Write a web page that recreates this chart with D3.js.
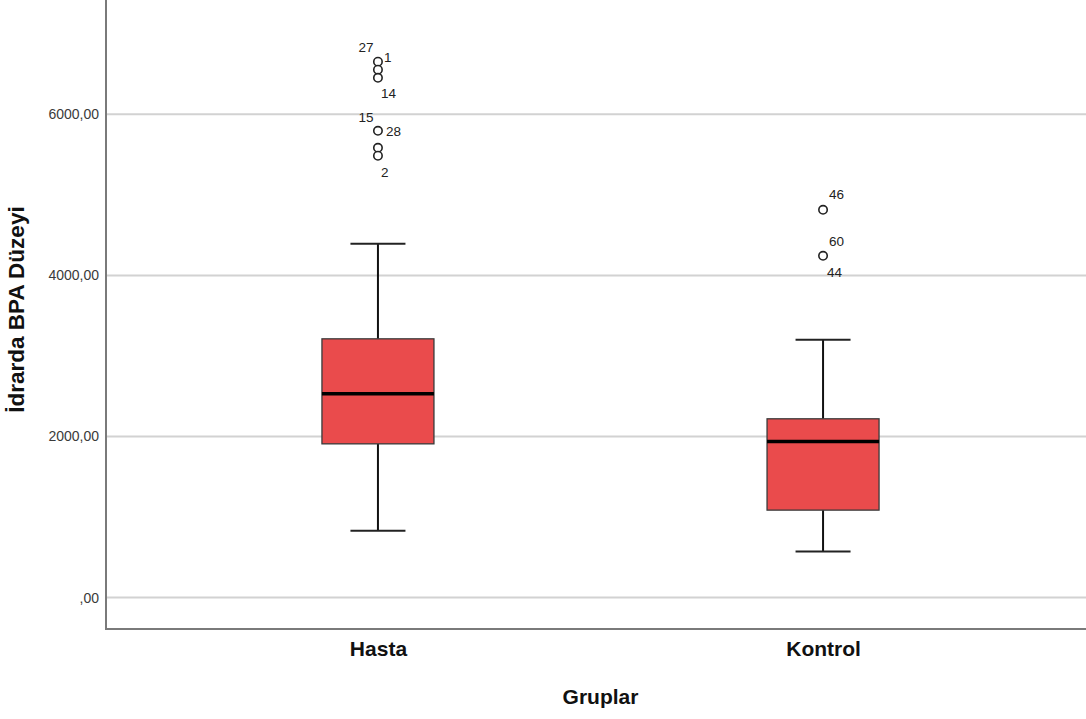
<!DOCTYPE html>
<html>
<head>
<meta charset="utf-8">
<script src="https://cdn.jsdelivr.net/npm/d3@7"></script>
<style>
  body { margin: 0; background: #ffffff; }
  svg { display: block; font-family: "Liberation Sans", Arial, sans-serif; }
</style>
</head>
<body>
<div id="chart"></div>
<script>
// groups and box statistics
var groups = ["Hasta", "Kontrol"];
var whiskerLow = [829, 571];
var q1 = [1909, 1086];
var median = [2530, 1938];
var q3 = [3213, 2220];
var whiskerHigh = [4393, 3201];
var outliers = [
    [6653, 6554, 6454, 5796, 5585, 5486],
    [4815, 4244]
];
// case labels next to the outliers: group index, case id, value where label sits
var labelGroup = [0, 0, 0, 0, 0, 0, 1, 1, 1];
var labelIds = ["27", "1", "14", "15", "28", "2", "46", "60", "44"];
var labelValues = [6827, 6703, 6256, 5970, 5784, 5287, 5013, 4429, 4045];
var yTicks = [0, 2000, 4000, 6000];

drawBoxplot();

function drawBoxplot() {
    var w = 1086, h = 719;
    var left = 106, top = 0, bottom = 629, right = 1095;
    var svg = d3.select("#chart").append("svg").attr("width", w).attr("height", h);

    var y = d3.scaleLinear().domain([-390, 7420]).range([bottom, top]);
    var x = d3.scalePoint().domain(groups).range([left, right]).padding(0.611);
    var boxW = 112, capW = 55;

    // gridlines
    svg.append("g").selectAll("line").data(yTicks).enter()
        .append("line")
        .attr("x1", left).attr("x2", w)
        .attr("y1", function (d) { return y(d); })
        .attr("y2", function (d) { return y(d); })
        .attr("stroke", "#d2d2d2").attr("stroke-width", 2);

    // y axis
    var yAxis = svg.append("g").attr("transform", "translate(" + left + ",0)")
        .call(d3.axisLeft(y).tickValues(yTicks).tickSize(0).tickPadding(7)
            .tickFormat(function (d) { return d === 0 ? ",00" : d.toFixed(2).replace(".", ","); }));
    yAxis.select(".domain").remove();
    yAxis.selectAll("text").attr("font-size", "14px").attr("fill", "#3a3a3a")
        .attr("font-family", "Liberation Sans, Arial, sans-serif");

    // x axis labels
    var xAxis = svg.append("g").attr("transform", "translate(0," + bottom + ")")
        .call(d3.axisBottom(x).tickSize(0).tickPadding(12));
    xAxis.select(".domain").remove();
    xAxis.selectAll("text").attr("font-size", "21px").attr("font-weight", "bold")
        .attr("fill", "#111").attr("font-family", "Liberation Sans, Arial, sans-serif");

    // axis lines
    svg.append("line").attr("x1", left).attr("x2", left).attr("y1", 0).attr("y2", bottom + 1)
        .attr("stroke", "#7a7a7a").attr("stroke-width", 2);
    svg.append("line").attr("x1", left).attr("x2", w).attr("y1", bottom).attr("y2", bottom)
        .attr("stroke", "#7a7a7a").attr("stroke-width", 2);

    var boxes = svg.append("g").selectAll("g").data(groups).enter().append("g");

    // whiskers
    boxes.append("line")
        .attr("x1", function (d) { return x(d); }).attr("x2", function (d) { return x(d); })
        .attr("y1", function (d, i) { return y(whiskerHigh[i]); })
        .attr("y2", function (d, i) { return y(q3[i]); })
        .attr("stroke", "#111").attr("stroke-width", 2);
    boxes.append("line")
        .attr("x1", function (d) { return x(d); }).attr("x2", function (d) { return x(d); })
        .attr("y1", function (d, i) { return y(q1[i]); })
        .attr("y2", function (d, i) { return y(whiskerLow[i]); })
        .attr("stroke", "#111").attr("stroke-width", 2);
    // caps
    [whiskerHigh, whiskerLow].forEach(function (arr) {
        boxes.append("line")
            .attr("x1", function (d) { return x(d) - capW / 2; })
            .attr("x2", function (d) { return x(d) + capW / 2; })
            .attr("y1", function (d, i) { return y(arr[i]); })
            .attr("y2", function (d, i) { return y(arr[i]); })
            .attr("stroke", "#222").attr("stroke-width", 2);
    });
    // box
    boxes.append("rect")
        .attr("x", function (d) { return x(d) - boxW / 2; })
        .attr("width", boxW)
        .attr("y", function (d, i) { return y(q3[i]); })
        .attr("height", function (d, i) { return y(q1[i]) - y(q3[i]); })
        .attr("fill", "#ea4b4c").attr("stroke", "#3a3a3a").attr("stroke-width", 1.3);
    // median
    boxes.append("line")
        .attr("x1", function (d) { return x(d) - boxW / 2; })
        .attr("x2", function (d) { return x(d) + boxW / 2; })
        .attr("y1", function (d, i) { return y(median[i]); })
        .attr("y2", function (d, i) { return y(median[i]); })
        .attr("stroke", "#000").attr("stroke-width", 3.5);

    // outliers
    boxes.each(function (d, i) {
        d3.select(this).selectAll("circle").data(outliers[i]).enter()
            .append("circle")
            .attr("cx", x(d)).attr("cy", function (v) { return y(v); })
            .attr("r", 4.2)
            .attr("fill", "#fff").attr("stroke", "#222").attr("stroke-width", 1.6);
    });

    // outlier case labels
    var labelDx = [-12, 6, 3, -12, 8, 3, 6, 6, 4];
    svg.append("g").selectAll("text").data(labelIds).enter()
        .append("text")
        .attr("x", function (d, i) { return x(groups[labelGroup[i]]) + labelDx[i]; })
        .attr("y", function (d, i) { return y(labelValues[i]); })
        .attr("dy", "0.35em")
        .attr("text-anchor", function (d, i) { return labelDx[i] < 0 ? "middle" : "start"; })
        .attr("font-size", "13.5px").attr("fill", "#222")
        .text(function (d) { return d; });

    // axis titles
    svg.append("text")
        .attr("transform", "translate(24," + ((top + bottom) / 2 - 5) + ") rotate(-90)")
        .attr("text-anchor", "middle")
        .attr("font-size", "22.5px").attr("font-weight", "bold").attr("fill", "#111")
        .text("İdrarda BPA Düzeyi");
    svg.append("text")
        .attr("x", (left + right) / 2).attr("y", 704)
        .attr("text-anchor", "middle")
        .attr("font-size", "21px").attr("font-weight", "bold").attr("fill", "#111")
        .text("Gruplar");
}
</script>
</body>
</html>
